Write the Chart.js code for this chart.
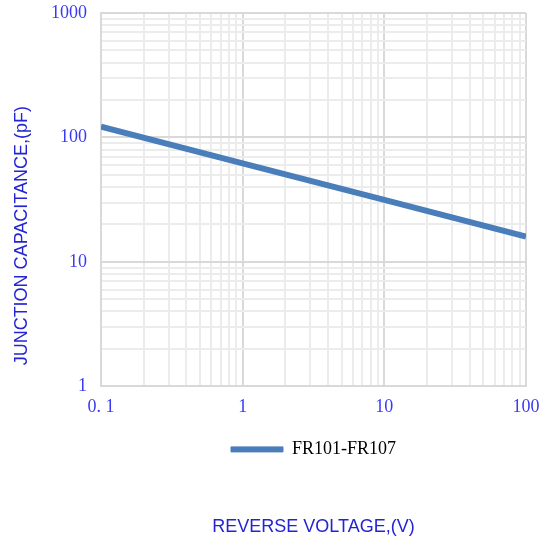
<!DOCTYPE html>
<html>
<head>
<meta charset="utf-8">
<script src="https://cdn.jsdelivr.net/npm/chart.js@4/dist/chart.umd.min.js"></script>
<style>
  html, body { margin: 0; padding: 0; background: #fff; }
  #wrap { width: 543px; height: 542px; }
</style>
</head>
<body>
<div id="wrap"><canvas id="chart" width="543" height="542"></canvas></div>
<script>
// Data
const seriesName = 'FR101-FR107';
const reverseVoltage = [0.1, 1, 10, 100];
const junctionCapacitance = [122, 62, 31.5, 16];

// Axis labels
const xDecades = [0.1, 1, 10, 100];
const xTickLabels = ['0. 1', '1', '10', '100'];
const yDecades = [1, 10, 100, 1000];
const yTickLabels = ['1', '10', '100', '1000'];
const xTitle = 'REVERSE VOLTAGE,(V)';
const yTitle = 'JUNCTION CAPACITANCE,(pF)';

const lineColor = '#4a7ebb';
const tickColor = '#3a3af5';
const titleColor = '#2424d4';
const majorGrid = '#d9d9d9';
const minorGrid = '#ececec';

// 1..9 of every decade, decade values are major
function logTicks(decades) {
    const ticks = [];
    decades.forEach((d, i) => {
        ticks.push({ value: d, major: true });
        if (i < decades.length - 1) {
            for (let m = 2; m <= 9; m++) ticks.push({ value: d * m, major: false });
        }
    });
    return ticks;
}

function labelFor(decades, labels, value) {
    const i = decades.findIndex(d => Math.abs(d - value) < d * 1e-6);
    return i >= 0 ? labels[i] : '';
}

// y title sits lower than the plot centre in the original
const yTitlePlugin = {
    id: 'yTitle',
    afterDraw(chart) {
        const { ctx, chartArea } = chart;
        ctx.save();
        ctx.fillStyle = titleColor;
        ctx.font = '18px "Liberation Sans", Arial, sans-serif';
        ctx.textAlign = 'center';
        ctx.textBaseline = 'middle';
        ctx.translate(22, (chartArea.top + chartArea.bottom) / 2 + 36);
        ctx.rotate(-Math.PI / 2);
        ctx.fillText(yTitle, 0, 0);
        ctx.restore();
    }
};

new Chart(document.getElementById('chart'), {
    type: 'line',
    data: {
        datasets: [{
            label: seriesName,
            data: reverseVoltage.map((x, i) => ({ x: x, y: junctionCapacitance[i] })),
            borderColor: lineColor,
            backgroundColor: lineColor,
            borderWidth: 6,
            pointRadius: 0,
            tension: 0,
            borderCapStyle: 'butt'
        }]
    },
    options: {
        responsive: false,
        animation: false,
        layout: { padding: { top: 13, right: 17, left: 0, bottom: 0 } },
        scales: {
            x: {
                type: 'logarithmic',
                min: 0.1,
                max: 100,
                afterBuildTicks: scale => { scale.ticks = logTicks(xDecades); },
                afterFit: scale => {
                    scale.height = 44;
                    scale.paddingLeft = 0;
                    scale.paddingRight = 0;
                },
                grid: {
                    color: ctx => ctx.tick && ctx.tick.major ? majorGrid : minorGrid,
                    lineWidth: 2,
                    drawTicks: false
                },
                border: { color: majorGrid, width: 2 },
                ticks: {
                    autoSkip: false,
                    maxRotation: 0,
                    padding: 10,
                    color: tickColor,
                    font: { family: '"Liberation Serif", "Times New Roman", serif', size: 18 },
                    callback: value => labelFor(xDecades, xTickLabels, value)
                }
            },
            y: {
                type: 'logarithmic',
                min: 1,
                max: 1000,
                afterBuildTicks: scale => { scale.ticks = logTicks(yDecades); },
                afterFit: scale => {
                    scale.width = 101;
                    scale.paddingTop = 0;
                    scale.paddingBottom = 0;
                },
                grid: {
                    color: ctx => ctx.tick && ctx.tick.major ? majorGrid : minorGrid,
                    lineWidth: 2,
                    drawTicks: false
                },
                border: { color: majorGrid, width: 2 },
                ticks: {
                    autoSkip: false,
                    padding: 14,
                    color: tickColor,
                    font: { family: '"Liberation Serif", "Times New Roman", serif', size: 18 },
                    callback: value => labelFor(yDecades, yTickLabels, value)
                }
            }
        },
        plugins: {
            legend: {
                position: 'bottom',
                fullSize: false,
                labels: {
                    boxWidth: 52,
                    boxHeight: 5,
                    padding: 10,
                    color: '#333333',
                    font: { family: '"Liberation Serif", "Times New Roman", serif', size: 18 },
                    generateLabels: chart => [{
                        text: seriesName,
                        fillStyle: lineColor,
                        strokeStyle: lineColor,
                        lineWidth: 1,
                        hidden: false,
                        datasetIndex: 0
                    }]
                }
            },
            title: {
                display: true,
                position: 'bottom',
                fullSize: false,
                text: xTitle,
                color: titleColor,
                font: { family: '"Liberation Sans", Arial, sans-serif', size: 18, weight: 'normal' },
                padding: { top: 48, bottom: 4 }
            },
            tooltip: { enabled: false }
        }
    },
    plugins: [yTitlePlugin]
});
</script>
</body>
</html>
